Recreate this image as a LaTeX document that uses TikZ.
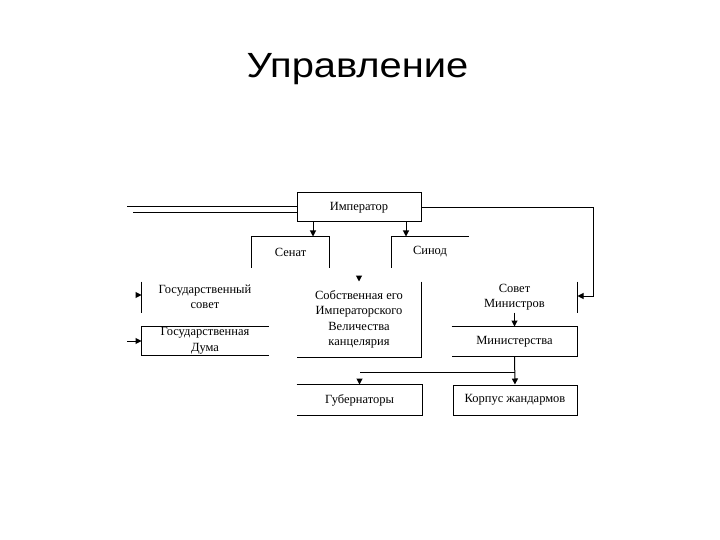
\documentclass[tikz,border=0pt]{standalone}
\usepackage{fontspec}
\setmainfont{Liberation Serif}
\newfontfamily\titlefont{Liberation Sans}
\usetikzlibrary{arrows.meta}

\begin{document}
\begin{tikzpicture}[x=1pt, y=-1pt, line width=1pt,
  font=\fontsize{12.5}{15.5}\selectfont,
  box/.style={inner sep=0pt, align=center, minimum width=#1},
  box/.default=124pt,
  arr/.style={-{Triangle[length=6pt, width=6pt]}}]
\useasboundingbox (0,0) rectangle (720,540);
\node[anchor=base, font=\titlefont\fontsize{35}{40}\selectfont] (title) at (357.5,78) {\scalebox{1.14}[1]{Управление}};
% boxes
\node[box, draw, minimum height=29pt] (imp) at (359,207.5) {Император};
\node[box=77pt, minimum height=30pt] (sen) at (290.5,252) {Сенат};
\node[box=76pt, minimum height=30pt] (syn) at (430,252) {Синод};
\node[box=126pt, minimum height=30pt] (gsov) at (205,297) {Государственный\\совет};
\node[box, minimum height=75pt] (sobst) at (359,319.5) {Собственная его\\Императорского\\Величества\\канцелярия};
\node[box=125pt, minimum height=30pt] (smin) at (514.5,297) {Совет\\Министров};
\node[box=126pt, minimum height=28pt] (duma) at (205,341) {Государственная\\Дума};
\node[box=125pt, minimum height=29pt] (min) at (514.5,341.5) {Министерства};
\node[box=125pt, minimum height=30pt] (gub) at (359.5,400) {Губернаторы};
\node[box, draw, minimum height=30pt] (korp) at (515,400) {Корпус жандармов};
% borders
\draw (sen.south west) |- (sen.north east) -- (sen.south east);
\draw (syn.south west) |- (syn.north east);
\draw (gsov.north west) -- (gsov.south west);
\draw (sobst.north east) |- (sobst.south west);
\draw (smin.north east) -- (smin.south east);
\draw (duma.north east) -| (duma.south west) -- (duma.south east);
\draw (min.north west) -| (min.south east) -- (min.south west);
\draw (gub.north west) -| (gub.south east) -- (gub.south west);
% connectors
\coordinate (l1) at (127,207);
\coordinate (l2) at (133,213);
\coordinate (l3) at (127,341);
\coordinate (r1) at (593,296);
\coordinate (h1) at (0,372);
\draw (l1) -- (l1 -| imp.west);
\draw (l2) -- (l2 -| imp.west);
\draw[arr] (imp.east) -| (r1) -- (r1 -| smin.east);
\draw[arr] ([xshift=-46pt]imp.south) -- ([xshift=-46pt]imp.south |- sen.north);
\draw[arr] ([xshift=47pt]imp.south) -- ([xshift=47pt]imp.south |- syn.north);
\draw[arr] ([yshift=6pt]sobst.north) -- (sobst.north);
\draw[arr] ([xshift=-6pt, yshift=2pt]gsov.west) -- ([yshift=2pt]gsov.west);
\draw[arr] (l3) -- (duma.west);
\draw[arr] (smin.south) -- (min.north);
\draw[arr] (min.south) -- (korp.north);
\draw (h1 -| min.south) -- (h1 -| gub.north);
\draw[arr] ([yshift=6pt]gub.north) -- (gub.north);
\end{tikzpicture}
\end{document}
